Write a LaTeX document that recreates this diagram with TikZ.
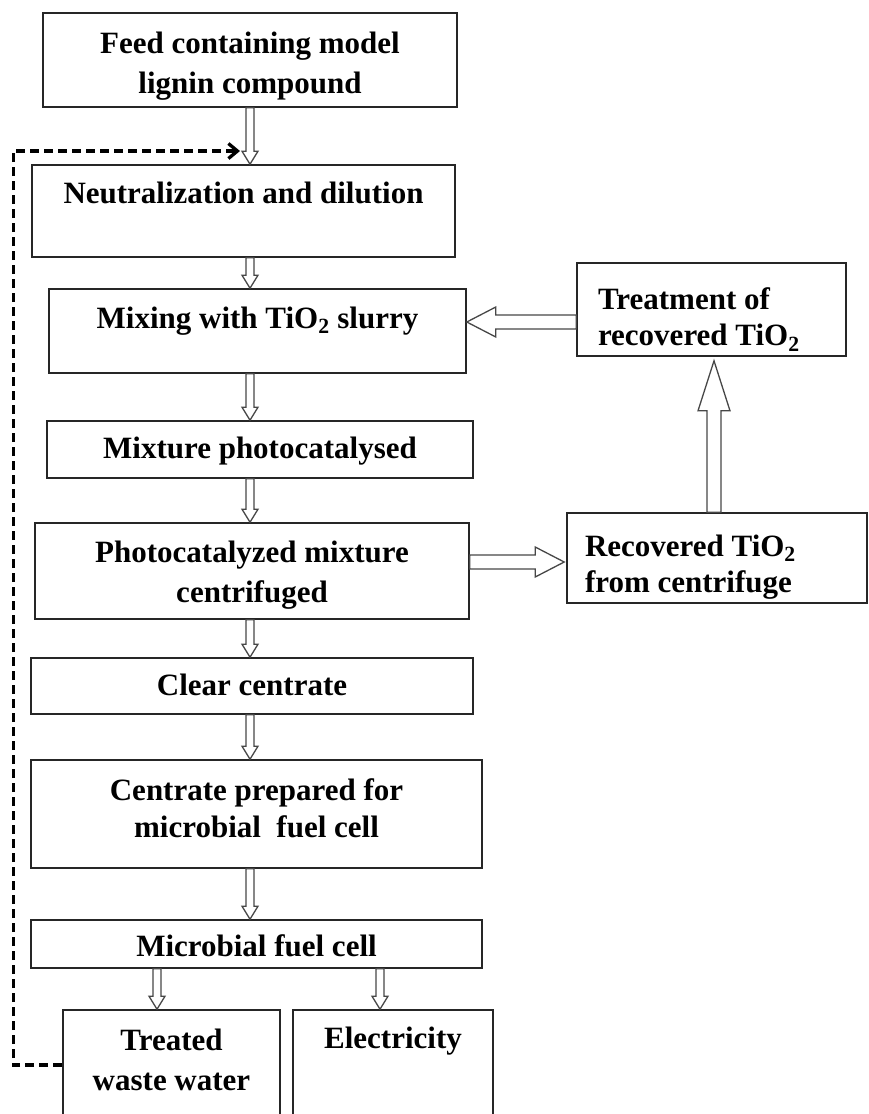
\documentclass[tikz,border=0pt]{standalone}
\usepackage{fontspec}
\setmainfont{Liberation Serif}
\usetikzlibrary{calc,arrows.meta}

\tikzset{
  box/.style={draw=black!85, line width=1.6pt, fill=white, inner sep=0pt, align=center,
    font=\fontsize{31}{#1}\selectfont\bfseries},
  box/.default=38,
  hollow/.style n args={3}{draw=black!72, line width=1.3pt, fill=white,
    to path={($(\tikztostart)!#1!90:(\tikztotarget)$)
      -- ($($(\tikztotarget)!#3!(\tikztostart)$)!#1!90:(\tikztotarget)$)
      -- ($($(\tikztotarget)!#3!(\tikztostart)$)!#2!90:(\tikztotarget)$)
      -- (\tikztotarget)
      -- ($($(\tikztotarget)!#3!(\tikztostart)$)!#2!-90:(\tikztotarget)$)
      -- ($($(\tikztotarget)!#3!(\tikztostart)$)!#1!-90:(\tikztotarget)$)
      -- ($(\tikztostart)!#1!-90:(\tikztotarget)$) -- cycle}},
  thin arrow/.style={hollow={4pt}{8pt}{13pt}},
  wide arrow/.style={hollow={7pt}{15pt}{29pt}},
  recycle/.style={line width=3.3pt, dash pattern=on 9pt off 5pt,
    -{Straight Barb[length=9pt,width=15pt]}}
}

\begin{document}
\begin{tikzpicture}[x=1pt,y=-1pt]
\path[use as bounding box, clip] (0,0) rectangle (869,1114);

\node[box=40, minimum width=414pt, minimum height=94pt] (feed) at (250,60) {\rule{0pt}{33pt}Feed containing model\\lignin compound};
\node[box, minimum width=423pt, minimum height=92pt, text height=21pt, text depth=37pt] (neut) at (243.5,211) {Neutralization and dilution};
\node[box, minimum width=417pt, minimum height=84pt, text height=21pt, text depth=27pt] (mix) at (257.5,331) {Mixing with TiO\textsubscript{2} slurry};
\node[box, minimum width=426pt, minimum height=57pt, text height=24pt, text depth=7pt] (mixt) at (260,449.5) {Mixture photocatalysed};
\node[box=40, minimum width=434pt, minimum height=96pt] (cent) at (252,571) {\rule{0pt}{29pt}Photocatalyzed mixture\\centrifuged};
\node[box, minimum width=442pt, minimum height=56pt, text height=25pt, text depth=7pt] (clear) at (252,686) {Clear centrate};
\node[box=37, minimum width=451pt, minimum height=108pt] (prep) at (256.5,814) {Centrate prepared for\\microbial~ fuel cell\rule[-11pt]{0pt}{11pt}};
\node[box, minimum width=451pt, minimum height=48pt, text height=31pt, text depth=7pt] (mfc) at (256.5,944) {Microbial fuel cell};
\node[box=40, minimum width=217pt, minimum height=110pt] (treated) at (171.5,1065) {Treated\\waste water\rule[-10pt]{0pt}{10pt}};
\node[box, minimum width=200pt, minimum height=110pt, text height=21pt, text depth=55pt] (elec) at (393,1065) {Electricity};

\node[box=36, minimum height=93pt, text width=227pt, inner xsep=21pt, align=flush left] (treat) at (711.5,309.5) {\rule{0pt}{42pt}Treatment of\\recovered TiO\textsubscript{2}};
\node[box=36, minimum height=90pt, text width=264pt, inner xsep=18pt, align=flush left] (recov) at (717,558) {\rule{0pt}{39pt}Recovered TiO\textsubscript{2}\\from centrifuge};

\draw[thin arrow] (feed.south) to (feed.south |- neut.north);
\draw[thin arrow] (neut.south -| feed.south) to (mix.north -| feed.south);
\draw[thin arrow] (mix.south -| feed.south) to (mixt.north -| feed.south);
\draw[thin arrow] (mixt.south -| feed.south) to (cent.north -| feed.south);
\draw[thin arrow] (cent.south -| feed.south) to (clear.north -| feed.south);
\draw[thin arrow] (clear.south -| feed.south) to (prep.north -| feed.south);
\draw[thin arrow] (prep.south -| feed.south) to (mfc.north -| feed.south);

\coordinate (ww) at ([xshift=-14.5pt]treated.north);
\coordinate (el) at ([xshift=-13pt]elec.north);
\draw[thin arrow] (mfc.south -| ww) to (ww);
\draw[thin arrow] (mfc.south -| el) to (el);

\draw[wide arrow] ([yshift=9pt]cent.east) to ([xshift=-2pt,yshift=-4pt]recov.west);
\draw[hollow={7pt}{16pt}{50pt}] ([xshift=-3pt]recov.north) to ([xshift=2.5pt,yshift=-4pt]treat.south);
\draw[wide arrow] ([yshift=-12.5pt]treat.west) to ([yshift=9pt]mix.east);

\coordinate (back) at (240,151);
\draw[recycle] (treated.west) -- ++(-49,0) |- (back);
\end{tikzpicture}
\end{document}
